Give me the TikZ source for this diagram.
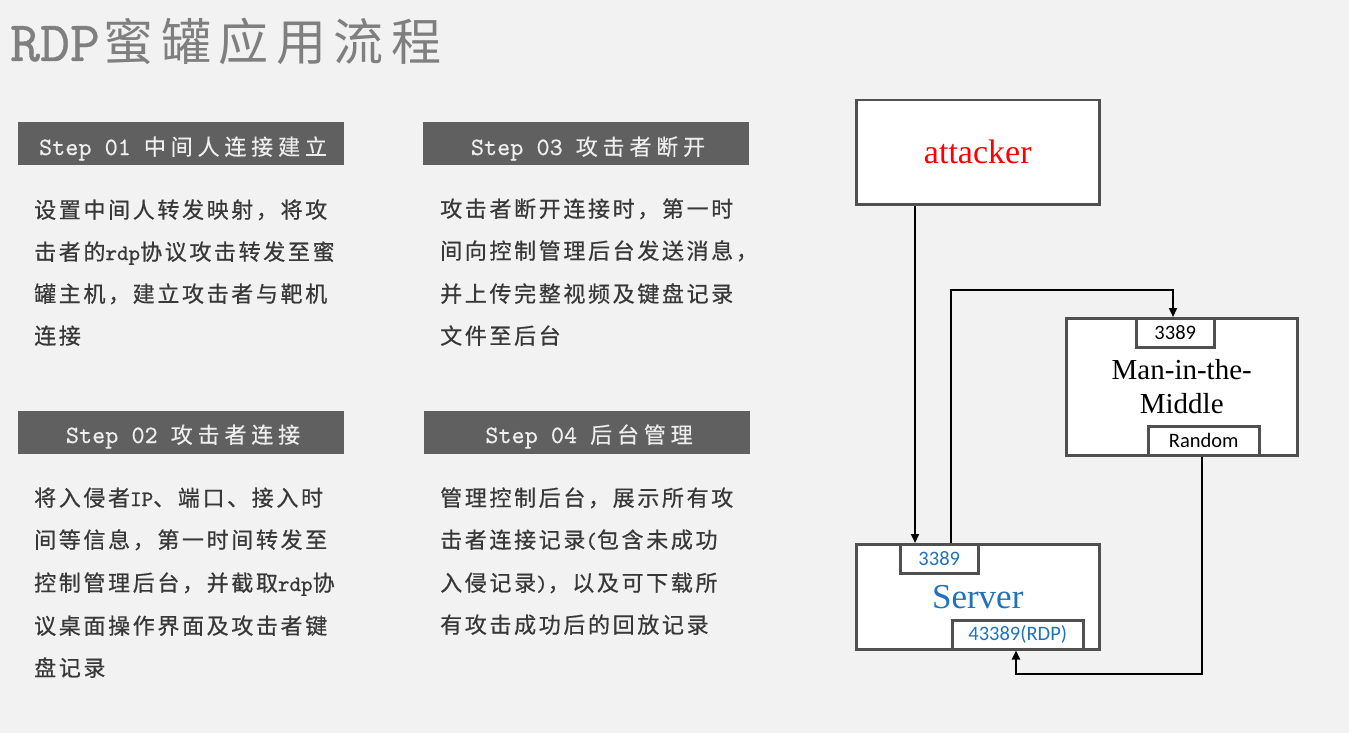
\documentclass[tikz,border=0pt]{standalone}
\usepackage{fontspec}
\setmainfont{Liberation Serif}
\newfontfamily\cjkbody[LetterSpace=12,FakeBold=0.6]{Noto Sans CJK SC}
\newfontfamily\cjkbar[LetterSpace=22,FakeBold=0.3]{Noto Sans CJK SC}
\newfontfamily\cjktitle[LetterSpace=15]{Noto Sans CJK SC}
\newfontfamily\monob[Extension=.otf,FakeBold=0.9]{lmmono10-regular}
\newfontfamily\monobar[Extension=.otf,FakeBold=0.4]{lmmono10-regular}
\newfontfamily\monot[Extension=.otf,FakeBold=0.6]{lmmono10-regular}
\newfontfamily\calib{Carlito}
\usetikzlibrary{arrows.meta}
\definecolor{bgc}{HTML}{F2F2F2}
\definecolor{barc}{HTML}{606060}
\definecolor{boxc}{HTML}{505050}
\definecolor{bodyc}{HTML}{383838}
\definecolor{titlec}{HTML}{7F7F7F}
\definecolor{servc}{HTML}{1F73BE}
\definecolor{bartc}{HTML}{EEEEEE}
\newcommand\lat[1]{{\monob #1}}
\begin{document}
\begin{tikzpicture}[x=1pt,y=-1pt,
  bar/.style={fill=barc, minimum width=326pt, minimum height=43pt, inner sep=0pt, anchor=north west},
  bartext/.style={text=bartc, anchor=base, inner sep=0pt, font=\cjkbar\fontsize{22}{22}\selectfont},
  body/.style={text=bodyc, anchor=base west, inner sep=0pt, font=\cjkbody\fontsize{22}{22}\selectfont},
  box/.style={draw=boxc, line width=2.5pt, fill=white, inner sep=0pt, anchor=north west},
  port/.style={box, minimum height=29pt, font=\calib\fontsize{20.5}{20.5}\selectfont},
  arr/.style={draw=black, line width=2pt, -{Triangle[length=9pt,width=8pt]}}
]
\fill[bgc] (0,0) rectangle (1349,733);
\useasboundingbox (0,0) rectangle (1349,733);

% title
\node[anchor=base west, inner sep=0pt, text=titlec] (title) at (10,61)
  {{\monot\fontsize{57}{57}\selectfont RDP}\hspace{4pt}{\cjktitle\fontsize{50}{50}\selectfont 蜜罐应用流程}};

% step bars
\node[bar] (bar1) at (18,122) {};
\node[bar] (bar3) at (423,122) {};
\node[bar] (bar2) at (18,411) {};
\node[bar] (bar4) at (424,411) {};
\node[bartext] (bt1) at (183,155) {{\monobar\fontsize{25}{25}\selectfont Step 01}\hspace{13pt}中间人连接建立};
\node[bartext] (bt3) at (588,155) {{\monobar\fontsize{25}{25}\selectfont Step 03}\hspace{13pt}攻击者断开};
\node[bartext] (bt2) at (183,443) {{\monobar\fontsize{25}{25}\selectfont Step 02}\hspace{13pt}攻击者连接};
\node[bartext] (bt4) at (589,443) {{\monobar\fontsize{25}{25}\selectfont Step 04}\hspace{13pt}后台管理};

% step 01 text
\node[body] (a1) at (34,218) {设置中间人转发映射，将攻};
\node[body] (a2) at (34,260) {击者的\lat{rdp}协议攻击转发至蜜};
\node[body] (a3) at (34,302) {罐主机，建立攻击者与靶机};
\node[body] (a4) at (34,344) {连接};
% step 02 text
\node[body] (b1t) at (34,506) {将入侵者\lat{IP}、端口、接入时};
\node[body] (b2t) at (34,548) {间等信息，第一时间转发至};
\node[body] (b3t) at (34,591) {控制管理后台，并截取\lat{rdp}协};
\node[body] (b4t) at (34,634) {议桌面操作界面及攻击者键};
\node[body] (b5t) at (34,676) {盘记录};
% step 03 text
\node[body] (c1t) at (440,217) {攻击者断开连接时，第一时};
\node[body] (c2t) at (440,259) {间向控制管理后台发送消息，};
\node[body] (c3t) at (440,302) {并上传完整视频及键盘记录};
\node[body] (c4t) at (440,344) {文件至后台};
% step 04 text
\node[body] (d1t) at (440,506) {管理控制后台，展示所有攻};
\node[body] (d2t) at (440,548) {击者连接记录\lat{(}包含未成功};
\node[body] (d3t) at (440,591) {入侵记录\lat{)}，以及可下载所};
\node[body] (d4t) at (440,633) {有攻击成功后的回放记录};

% diagram
\node[box, minimum width=243pt, minimum height=104pt, text=red, font=\fontsize{34}{34}\selectfont] (attacker) at (855,99) {attacker};
\node[box, minimum width=243pt, minimum height=105pt, text=servc, font=\fontsize{35}{35}\selectfont] (server) at (855,543) {Server};
\node[box, minimum width=231pt, minimum height=137pt, align=center, font=\fontsize{29}{34}\selectfont] (mitm) at (1065,317) {Man-in-the-\\Middle};
\node[port, minimum width=78pt, text=servc] (s3389) at (899,543) {3389};
\node[port, minimum width=131pt, text=servc] (srdp) at (951,619) {43389(RDP)};
\node[port, minimum width=78pt] (m3389) at (1135,317) {3389};
\node[port, minimum width=111pt] (mrand) at (1147,425) {Random};

\coordinate (c1) at (915,0);
\draw[arr] (attacker.south -| c1) -- (s3389.north -| c1);
\coordinate (t1) at (951,290);
\coordinate (t2) at (1173,290);
\draw[arr] (s3389.north -| t1) -- (t1) -- (t2) -- (m3389.north -| t2);
\coordinate (q1) at (1202,674);
\coordinate (q2) at (1016,674);
\draw[arr] (mrand.south -| q1) -- (q1) -- (q2) -- (srdp.south -| q2);
\end{tikzpicture}
\end{document}
